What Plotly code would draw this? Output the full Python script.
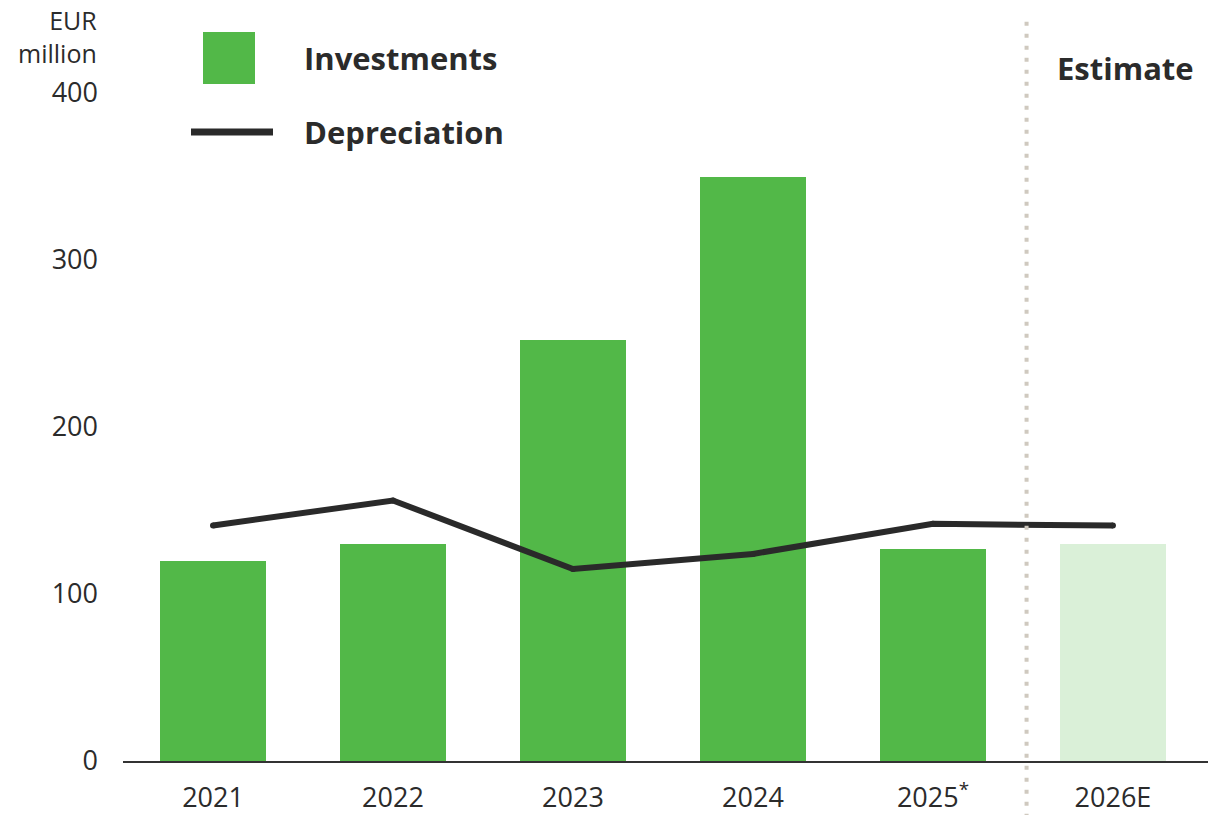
import plotly.graph_objects as go

# Data (EUR million)
years = ["2021", "2022", "2023", "2024", "2025<sup>*</sup>", "2026E"]
investments = [120, 130, 252, 350, 127, 130]
depreciation = [141, 156, 115, 124, 142, 141]
y_ticks = [0, 100, 200, 300, 400]

GREEN = "#52b848"
GREEN_LIGHT = "#daf0d8"
DARK = "#2a2a2a"
TEXT = "#2b2b2b"
FONT = "Open Sans"

x_idx = list(range(len(years)))
bar_colors = [GREEN] * (len(years) - 1) + [GREEN_LIGHT]

fig = go.Figure()
fig.add_trace(go.Bar(
    x=x_idx, y=investments, width=0.585,
    marker=dict(color=bar_colors, line=dict(width=0)),
    showlegend=False, hoverinfo="skip",
))
fig.add_trace(go.Scatter(
    x=x_idx, y=depreciation, mode="lines+markers",
    line=dict(color=DARK, width=6),
    marker=dict(color=DARK, size=6),
    showlegend=False, hoverinfo="skip",
))

# Estimate separator
fig.add_shape(
    type="line", xref="x", yref="paper",
    x0=4.52, x1=4.52, y0=-0.085, y1=1.11,
    line=dict(color="#cfc9bf", width=4, dash="4px,8px"),
    layer="above",
)

# Custom legend
fig.add_shape(type="rect", xref="paper", yref="paper",
              x0=(203 - 123) / 1085, x1=(255 - 123) / 1085,
              y0=(761 - 84) / 668, y1=(761 - 32) / 668,
              fillcolor=GREEN, line=dict(width=0))
fig.add_shape(type="line", xref="paper", yref="paper",
              x0=(191 - 123) / 1085, x1=(273 - 123) / 1085,
              y0=(761 - 132) / 668, y1=(761 - 132) / 668,
              line=dict(color=DARK, width=7))
fig.add_annotation(text="<b>Investments</b>", xref="paper", yref="paper",
                   x=(302 - 123) / 1085, y=(761 - 58) / 668,
                   xanchor="left", yanchor="middle", showarrow=False,
                   font=dict(family=FONT, size=31, color=TEXT))
fig.add_annotation(text="<b>Depreciation</b>", xref="paper", yref="paper",
                   x=(302 - 123) / 1085, y=(761 - 132) / 668,
                   xanchor="left", yanchor="middle", showarrow=False,
                   font=dict(family=FONT, size=31, color=TEXT))
fig.add_annotation(text="<b>Estimate</b>", xref="paper", yref="paper",
                   x=(1055 - 123) / 1085, y=(761 - 68) / 668,
                   xanchor="left", yanchor="middle", showarrow=False,
                   font=dict(family=FONT, size=31, color=TEXT))
fig.add_annotation(text="EUR<br>million", xref="paper", yref="paper",
                   x=-(123 - 99) / 1085, y=(761 - 36) / 668,
                   xanchor="right", yanchor="middle", align="right",
                   showarrow=False,
                   font=dict(family=FONT, size=25, color=TEXT))

fig.update_layout(
    width=1208, height=815,
    margin=dict(l=123, r=0, t=93, b=54),
    paper_bgcolor="white", plot_bgcolor="white",
    font=dict(family=FONT, size=27, color=TEXT),
    bargap=0,
)
fig.update_xaxes(
    range=[-0.5, 5.528], tickmode="array", tickvals=x_idx, ticktext=years,
    showgrid=False, zeroline=False, showline=True, linecolor="#333333",
    linewidth=1.5, ticks="", ticklabelstandoff=12,
    tickfont=dict(family=FONT, size=27, color=TEXT),
)
fig.update_yaxes(
    range=[0, 400], tickmode="array", tickvals=y_ticks,
    showgrid=False, zeroline=False, showline=False, ticks="",
    ticklabelstandoff=24,
    tickfont=dict(family=FONT, size=27, color=TEXT),
)

fig.write_html("out.html")
